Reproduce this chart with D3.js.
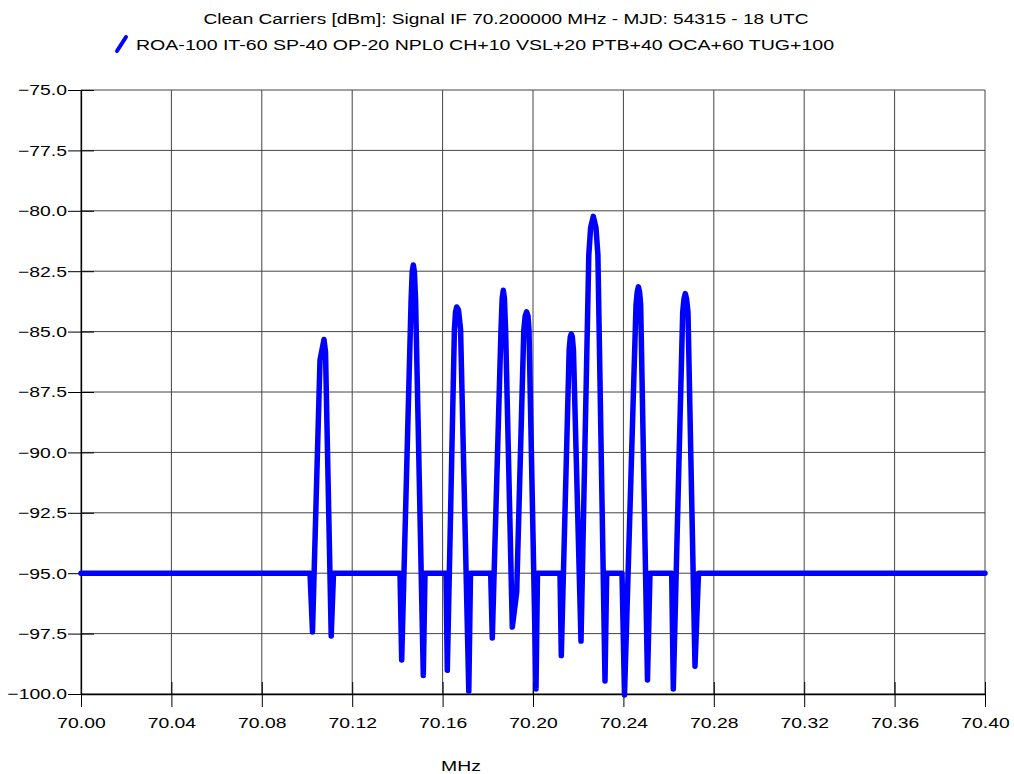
<!DOCTYPE html>
<html>
<head>
<meta charset="utf-8">
<script src="https://cdn.jsdelivr.net/npm/d3@7"></script>
<style>
  body { margin: 0; background: #fff; }
  text { font-family: "Liberation Sans", Arial, sans-serif; font-size: 15px; fill: #000; }
</style>
</head>
<body>
<script>
var board = { width: 1014, height: 774 };
var margin = { top: 90, right: 29, bottom: 80, left: 81 };
var stretch = 1.29; // the original lettering is wide

// spectrum trace
var freqMHz = [
  70.0, 70.10133, 70.10243, 70.10575, 70.10752, 70.10819, 70.11071, 70.11173,
  70.14115, 70.14190, 70.14606, 70.14655, 70.14704, 70.14752, 70.14805, 70.15146, 70.15221,
  70.16150, 70.16208, 70.16522, 70.16571, 70.16624, 70.16704, 70.16796, 70.17159, 70.17235,
  70.18128, 70.18199, 70.18584, 70.18637, 70.18686, 70.18735, 70.18788, 70.19084,
  70.19279, 70.19593, 70.19655, 70.19717, 70.19779, 70.19823, 70.20133, 70.20199,
  70.21195, 70.21252, 70.21600, 70.21650, 70.21695, 70.21740, 70.21790, 70.22124,
  70.22469, 70.22549, 70.22668, 70.22788, 70.22872, 70.23186, 70.23261,
  70.23938, 70.24049, 70.24558, 70.24611, 70.24664, 70.24717, 70.24765, 70.25066, 70.25177,
  70.26137, 70.26208, 70.26624, 70.26681, 70.26739, 70.26796, 70.26858, 70.27168, 70.27323,
  70.40
];
var powerDbm = [
  -95.0, -95.0, -97.43, -86.18, -85.33, -85.84, -97.60, -95.0,
  -95.0, -98.59, -83.69, -82.53, -82.24, -82.53, -83.69, -99.23, -95.0,
  -95.0, -99.02, -84.93, -84.19, -83.98, -84.11, -84.93, -99.88, -95.0,
  -95.0, -97.68, -84.93, -83.61, -83.29, -83.61, -84.93, -97.23,
  -95.78, -84.93, -84.35, -84.18, -84.35, -84.93, -99.79, -95.0,
  -95.0, -98.41, -85.76, -85.22, -85.10, -85.22, -85.76, -97.81,
  -81.83, -80.71, -80.23, -80.71, -81.83, -99.46, -95.0,
  -95.0, -100.04, -83.90, -83.36, -83.15, -83.36, -83.90, -99.42, -95.0,
  -95.0, -99.79, -84.19, -83.65, -83.43, -83.65, -84.19, -98.85, -95.0,
  -95.0
];

var xTicks = [70.00, 70.04, 70.08, 70.12, 70.16, 70.20, 70.24, 70.28, 70.32, 70.36, 70.40];
var yTicks = [-75.0, -77.5, -80.0, -82.5, -85.0, -87.5, -90.0, -92.5, -95.0, -97.5, -100.0];

var titleText = "Clean Carriers [dBm]: Signal IF 70.200000 MHz - MJD: 54315 - 18 UTC";
var legendText = "ROA-100 IT-60 SP-40 OP-20 NPL0 CH+10 VSL+20 PTB+40 OCA+60 TUG+100";
var xLabel = "MHz";

var svg = d3.select("body").append("svg")
            .attr("width", board.width)
            .attr("height", board.height);

var x = d3.scaleLinear().domain([70.0, 70.4]).range([margin.left, board.width - margin.right]);
var y = d3.scaleLinear().domain([-100, -75]).range([board.height - margin.bottom, margin.top]);

// grid
svg.append("g").selectAll("line.v")
   .data(xTicks).enter().append("line")
   .attr("x1", function(d){ return x(d); }).attr("x2", function(d){ return x(d); })
   .attr("y1", y(-75)).attr("y2", y(-100))
   .attr("stroke", "#444").attr("stroke-width", 1);
svg.append("g").selectAll("line.h")
   .data(yTicks).enter().append("line")
   .attr("x1", x(70.0)).attr("x2", x(70.4))
   .attr("y1", function(d){ return y(d); }).attr("y2", function(d){ return y(d); })
   .attr("stroke", "#444").attr("stroke-width", 1);

// axes
var xAxis = d3.axisBottom(x).tickValues(xTicks).tickFormat(d3.format(".2f"))
              .tickSizeInner(13).tickSizeOuter(0).tickPadding(10);
var yAxis = d3.axisLeft(y).tickValues(yTicks).tickFormat(d3.format(".1f"))
              .tickSizeInner(13).tickSizeOuter(0).tickPadding(1);

var gx = svg.append("g").attr("transform", "translate(0," + y(-100) + ")").call(xAxis);
var gy = svg.append("g").attr("transform", "translate(" + x(70.0) + ",0)").call(yAxis);
[gx, gy].forEach(function(g){
  g.select(".domain").attr("stroke", "#000").attr("stroke-width", 1.3);
  g.selectAll(".tick line").attr("stroke", "#000");
  g.selectAll(".tick text").attr("font-family", null).attr("font-size", null).style("fill", "#000")
   .attr("transform", "scale(" + stretch + ",1)");
});
gy.selectAll(".tick text").attr("x", -14 / stretch);
// inner tick stubs
gx.selectAll(".tick").append("line").attr("y1", 0).attr("y2", -12).attr("stroke", "#000");
gy.selectAll(".tick").append("line").attr("x1", 0).attr("x2", 13).attr("stroke", "#000");

// trace
var pts = freqMHz.map(function(f, i){ return [f, powerDbm[i]]; });
var line = d3.line().x(function(d){ return x(d[0]); }).y(function(d){ return y(d[1]); });
svg.append("path")
   .datum(pts)
   .attr("d", line)
   .attr("fill", "none")
   .attr("stroke", "#0000ff")
   .attr("stroke-width", 5.5)
   .attr("stroke-linejoin", "round")
   .attr("stroke-linecap", "round");

// title and legend
svg.append("text").attr("transform", "scale(1.27,1)")
   .attr("x", 506 / 1.27).attr("y", 24).attr("text-anchor", "middle").text(titleText);
svg.append("line")
   .attr("x1", 117).attr("y1", 51).attr("x2", 126).attr("y2", 37)
   .attr("stroke", "#0000ff").attr("stroke-width", 4).attr("stroke-linecap", "round");
svg.append("text").attr("transform", "scale(1.305,1)")
   .attr("x", 136 / 1.305).attr("y", 50).text(legendText);

svg.append("text").attr("transform", "scale(" + stretch + ",1)")
   .attr("x", 461 / stretch).attr("y", 771).attr("text-anchor", "middle").text(xLabel);
</script>
</body>
</html>
